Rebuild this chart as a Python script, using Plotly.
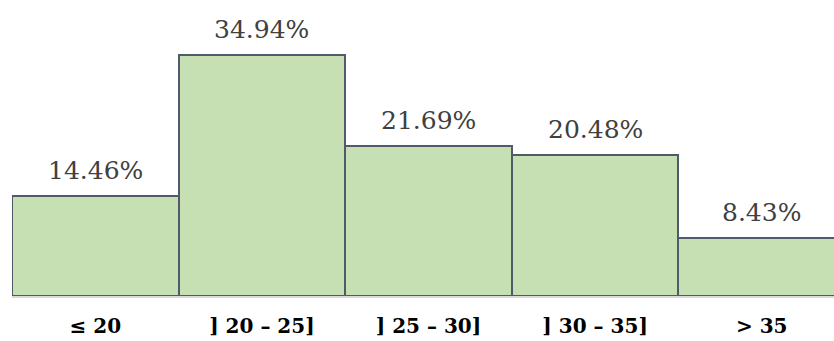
import plotly.graph_objects as go

categories = ["≤ 20", "] 20 – 25]", "] 25 – 30]", "] 30 – 35]", "> 35"]
values = [14.46, 34.94, 21.69, 20.48, 8.43]
labels = ["14.46%", "34.94%", "21.69%", "20.48%", "8.43%"]

fig = go.Figure()
fig.add_trace(go.Bar(
    x=list(range(len(categories))), y=values,
    width=1.0,
    marker=dict(color="#c6e0b4", line=dict(color="#4f5b6b", width=2)),
    hoverinfo="skip",
))
for i, (v, t) in enumerate(zip(values, labels)):
    fig.add_annotation(x=i, y=v, text=t, showarrow=False, yanchor="bottom",
                       yshift=9, font=dict(family="DejaVu Serif", size=25, color="#404040"))

fig.update_layout(
    width=834, height=341,
    margin=dict(l=12, r=0, t=0, b=45),
    paper_bgcolor="white", plot_bgcolor="white",
    bargap=0, showlegend=False,
    xaxis=dict(range=[-0.5, 4.434], tickmode="array",
               tickvals=list(range(len(categories))), ticktext=categories,
               tickfont=dict(family="DejaVu Serif", size=20, color="black", weight="bold"),
               showgrid=False, zeroline=False, showline=True, linecolor="#d9d9d9", linewidth=2,
               ticks="", ticklabelstandoff=11),
    yaxis=dict(range=[0, 42.9], visible=False, showgrid=False, zeroline=False),
)
fig.write_html("out.html")
